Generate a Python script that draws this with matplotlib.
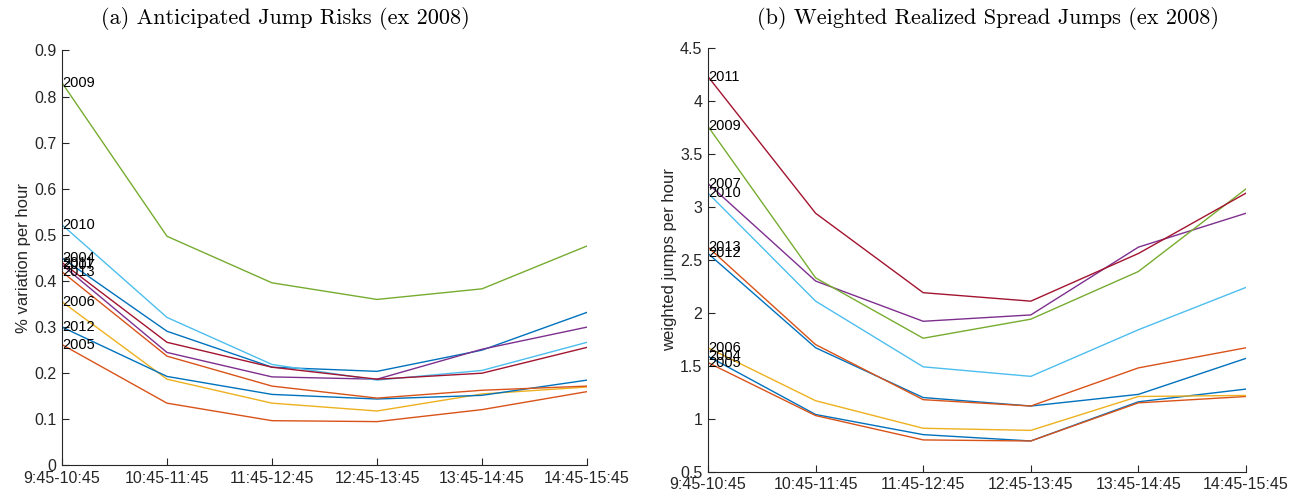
import matplotlib.pyplot as plt

# интервалы торгового дня
periods = ['9:45-10:45', '10:45-11:45', '11:45-12:45',
           '12:45-13:45', '13:45-14:45', '14:45-15:45']
years = ['2004', '2005', '2006', '2007', '2009', '2010', '2011', '2012', '2013']

# (a) ожидаемые риски скачков, % вариации в час
risk_2004 = [0.450, 0.291, 0.213, 0.204, 0.250, 0.332]
risk_2005 = [0.262, 0.135, 0.097, 0.095, 0.121, 0.160]
risk_2006 = [0.355, 0.187, 0.135, 0.118, 0.155, 0.170]
risk_2007 = [0.435, 0.245, 0.192, 0.187, 0.252, 0.300]
risk_2009 = [0.830, 0.497, 0.396, 0.360, 0.383, 0.476]
risk_2010 = [0.522, 0.321, 0.219, 0.185, 0.206, 0.267]
risk_2011 = [0.440, 0.267, 0.213, 0.187, 0.200, 0.256]
risk_2012 = [0.300, 0.193, 0.154, 0.144, 0.152, 0.185]
risk_2013 = [0.420, 0.237, 0.172, 0.146, 0.163, 0.172]

# (b) взвешенные скачки реализованного спреда в час
jump_2004 = [1.59, 1.04, 0.85, 0.79, 1.16, 1.28]
jump_2005 = [1.53, 1.03, 0.80, 0.79, 1.15, 1.21]
jump_2006 = [1.67, 1.17, 0.91, 0.89, 1.21, 1.22]
jump_2007 = [3.22, 2.30, 1.92, 1.98, 2.62, 2.94]
jump_2009 = [3.76, 2.33, 1.76, 1.94, 2.39, 3.17]
jump_2010 = [3.13, 2.11, 1.49, 1.40, 1.84, 2.24]
jump_2011 = [4.23, 2.94, 2.19, 2.11, 2.56, 3.13]
jump_2012 = [2.56, 1.67, 1.20, 1.12, 1.23, 1.57]
jump_2013 = [2.62, 1.70, 1.18, 1.12, 1.48, 1.67]

risks = [risk_2004, risk_2005, risk_2006, risk_2007, risk_2009,
         risk_2010, risk_2011, risk_2012, risk_2013]
jumps = [jump_2004, jump_2005, jump_2006, jump_2007, jump_2009,
         jump_2010, jump_2011, jump_2012, jump_2013]

# стандартная палитра MATLAB
colors = ['#0072BD', '#D95319', '#EDB120', '#7E2F8E', '#77AC30',
          '#4DBEEE', '#A2142F']

plt.rcParams['font.family'] = ['Liberation Sans', 'DejaVu Sans']

W, H = 1299, 497
fig = plt.figure(figsize=(W / 100, H / 100), dpi=100)
# положение осей в пикселях: левый, правый, верх, низ
ax1 = fig.add_axes([62 / W, 1 - 465.4 / H, 525 / W, 414.9 / H])
ax2 = fig.add_axes([708 / W, 1 - 471.7 / H, 538 / W, 423.7 / H])

x = list(range(len(periods)))


def draw_panel(ax, data, ylim, yticks, ylabel):
    for i, (year, vals) in enumerate(zip(years, data)):
        ax.plot(x, vals, color=colors[i % len(colors)], lw=1.0)
        ax.text(x[0], vals[0], year, fontsize=10.5, ha='left', va='center')
    ax.set_xlim(0, len(periods) - 1)
    ax.set_ylim(*ylim)
    ax.set_yticks(yticks)
    ax.set_yticklabels([f'{t:g}' for t in yticks])
    ax.set_xticks(x)
    ax.set_xticklabels(periods)
    ax.spines['top'].set_visible(False)
    ax.spines['right'].set_visible(False)
    for s in ('left', 'bottom'):
        ax.spines[s].set_color('#262626')
        ax.spines[s].set_linewidth(0.8)
    ax.tick_params(direction='in', length=5, width=0.8, colors='#262626',
                   labelsize=11.5, pad=4)
    ax.set_ylabel(ylabel, fontsize=12, color='#262626', labelpad=2)


draw_panel(ax1, risks, (0, 0.9), [0, 0.1, 0.2, 0.3, 0.4, 0.5, 0.6, 0.7, 0.8, 0.9],
           '% variation per hour')
draw_panel(ax2, jumps, (0.5, 4.5), [0.5, 1, 1.5, 2, 2.5, 3, 3.5, 4, 4.5],
           'weighted jumps per hour')

# подписи подрисунков как в LaTeX
fig.text(285 / W, 1 - 18 / H, '(a) Anticipated Jump Risks (ex 2008)',
         family='cmr10', fontsize=16, ha='center', va='center')
fig.text(988 / W, 1 - 18 / H, '(b) Weighted Realized Spread Jumps (ex 2008)',
         family='cmr10', fontsize=16, ha='center', va='center')

fig.savefig('out.png', dpi=100)
